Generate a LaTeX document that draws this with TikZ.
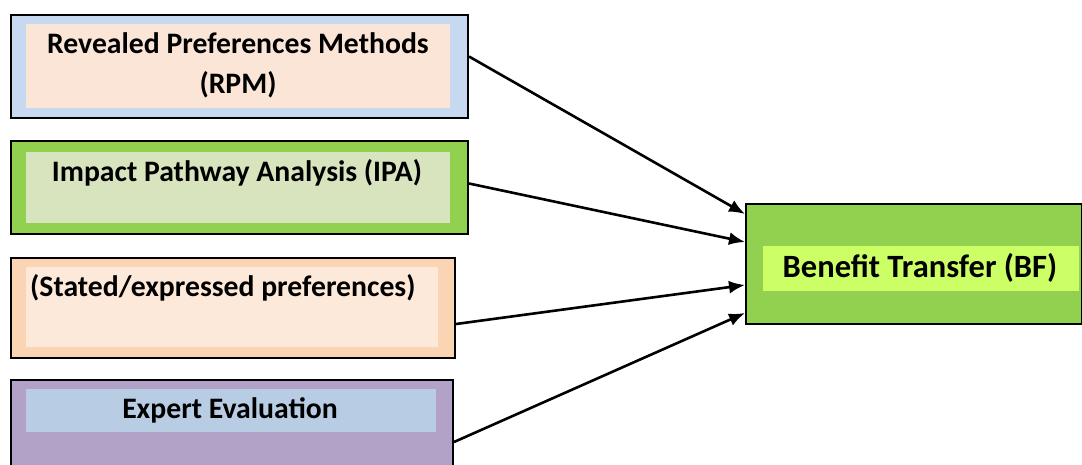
\documentclass[tikz,border=0pt]{standalone}
\usepackage{fontspec}
\setmainfont{Carlito}
\usepackage{tikz}
\usetikzlibrary{arrows.meta,positioning,calc}
\definecolor{rpmout}{HTML}{C6D9F1}
\definecolor{rpmin}{HTML}{FBE5D6}
\definecolor{ipaout}{HTML}{92D050}
\definecolor{ipain}{HTML}{D7E4BD}
\definecolor{spout}{HTML}{FBD4B4}
\definecolor{spin}{HTML}{FDE9D9}
\definecolor{expout}{HTML}{B2A2C7}
\definecolor{expin}{HTML}{B8CCE4}
\definecolor{bfout}{HTML}{92D050}
\definecolor{bfin}{HTML}{CCFF66}

\begin{document}
\begin{tikzpicture}[
  x=1pt, y=-1pt,
  font=\fontsize{29.7}{40}\selectfont\bfseries,
  outer/.style={draw=black, line width=2pt, inner sep=0pt, anchor=north west},
  inner/.style={inner sep=0pt, anchor=north west},
  txt/.style={inner sep=0pt, align=center},
  arr/.style={-{Latex[length=16pt, width=13pt]}, line width=2.6pt}
]
\useasboundingbox (0,0) rectangle (1082,465);
% left column
\node[outer, fill=rpmout, minimum width=457pt, minimum height=103pt] (rpm) at (10,14) {};
\node[inner, fill=rpmin, minimum width=424pt, minimum height=84pt] (rpmfill) at (26,24) {};
\node[txt] (rpmtext) at (238,65) {Revealed Preferences Methods\\(RPM)};

\node[outer, fill=ipaout, minimum width=457pt, minimum height=93pt] (ipa) at (10,140) {};
\node[inner, fill=ipain, minimum width=424pt, minimum height=71pt] (ipafill) at (26,152) {};
\node[txt] (ipatext) at (237,173) {Impact Pathway Analysis (IPA)};

\node[outer, fill=spout, minimum width=444pt, minimum height=100pt] (sp) at (10,257) {};
\node[inner, fill=spin, minimum width=412pt, minimum height=80pt] (spfill) at (26,267) {};
\node[txt, anchor=west] (sptext) at (30,288) {(Stated/expressed preferences)};

\node[outer, fill=expout, minimum width=442pt, minimum height=100pt] (exp) at (10,379) {};
\node[inner, fill=expin, minimum width=410pt, minimum height=43pt] (expfill) at (26,389) {};
\node[txt] (exptext) at (230,410) {Expert Evaluation};

% target
\node[outer, fill=bfout, minimum width=336pt, minimum height=120pt] (bf) at (745,203) {};
\node[inner, fill=bfin, minimum width=316pt, minimum height=45pt] (bffill) at (763,246) {};
\node[txt, font=\fontsize{32.5}{40}\selectfont\bfseries] (bftext) at (920,268) {Benefit Transfer (BF)};

\draw[arr] ([yshift=10pt]rpm.east) -- ([yshift=50pt]bf.west);
\draw[arr] ([yshift=4pt]ipa.east) -- ([yshift=22pt]bf.west);
\draw[arr] ([yshift=-16pt]sp.east) -- ([yshift=-21pt]bf.west);
\draw[arr] ([yshift=-12pt]exp.east) -- ([yshift=-49pt]bf.west);
\end{tikzpicture}
\end{document}
